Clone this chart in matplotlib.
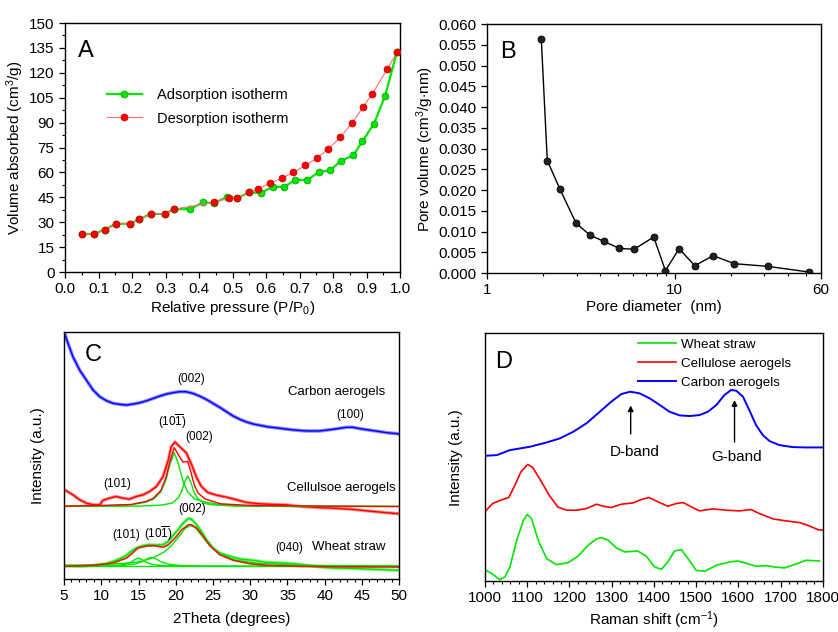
import matplotlib
matplotlib.use('Agg')
import matplotlib.pyplot as plt
from matplotlib.ticker import MultipleLocator, FixedLocator, NullFormatter, LogLocator

plt.rcParams['font.family'] = ['Liberation Sans', 'DejaVu Sans']
plt.rcParams['mathtext.fontset'] = 'custom'
plt.rcParams['mathtext.rm'] = 'Liberation Sans'
plt.rcParams['mathtext.it'] = 'Liberation Sans:italic'
plt.rcParams['mathtext.bf'] = 'Liberation Sans:bold'
plt.rcParams['font.size'] = 10.5
for a in ('xtick', 'ytick'):
    plt.rcParams[a + '.direction'] = 'out'
    plt.rcParams[a + '.major.size'] = 4
    plt.rcParams[a + '.minor.size'] = 2.2
    plt.rcParams[a + '.major.width'] = 0.9
    plt.rcParams[a + '.minor.width'] = 0.8
    plt.rcParams[a + '.labelsize'] = 11
plt.rcParams['axes.linewidth'] = 1.0

# ---------------- Panel A data ----------------
ads_x = [0.05, 0.087, 0.119, 0.151, 0.195, 0.221, 0.256, 0.297, 0.326, 0.373, 0.411, 0.443,
         0.482, 0.513, 0.55, 0.585, 0.619, 0.653, 0.687, 0.723, 0.757, 0.791, 0.823, 0.86,
         0.887, 0.922, 0.955, 0.99]
ads_y = [22.8, 23.0, 25.6, 29.0, 29.2, 31.8, 35.0, 35.0, 37.9, 37.9, 41.9, 41.5,
         44.9, 44.5, 47.9, 47.7, 51.3, 51.3, 55.4, 55.4, 60.2, 61.2, 67.0, 70.3,
         78.7, 89.4, 106.3, 132.3]
des_x = [0.99, 0.962, 0.917, 0.889, 0.857, 0.821, 0.785, 0.753, 0.717, 0.681, 0.646, 0.611,
         0.575, 0.55, 0.513, 0.488, 0.443, 0.326, 0.297, 0.256, 0.221, 0.195, 0.151, 0.119,
         0.087, 0.05]
des_y = [132.3, 122.4, 107.5, 99.3, 90.0, 81.1, 74.1, 68.7, 64.2, 60.0, 56.4, 53.4,
         50.1, 47.9, 44.5, 44.5, 41.9, 37.9, 35.0, 35.0, 31.8, 29.2, 29.0, 25.6,
         23.0, 22.8]

# ---------------- Panel B data ----------------
pore_d = [1.948, 2.097, 2.449, 2.98, 3.525, 4.184, 5.07, 6.07, 7.73, 8.92, 10.55, 12.79,
          16.0, 20.8, 31.2, 51.8]
pore_v = [0.05646, 0.0271, 0.0202, 0.01206, 0.00917, 0.00764, 0.00595, 0.00571, 0.00869,
          0.00056, 0.00587, 0.00177, 0.00418, 0.00225, 0.00161, 0.00024]

# ---------------- Panel C data (arbitrary intensity units) ----------------
carb_x = [5.09, 5.54, 6.2, 7.1, 8.0, 8.9, 9.8, 10.7, 11.6, 12.5, 13.4, 14.3, 15.2, 16.1, 17.0,
          17.85, 18.75, 19.6, 20.5, 21.4, 22.3, 23.2, 24.1, 25.0, 25.9, 26.8, 27.7, 28.6,
          29.5, 30.4, 32.2, 34.0, 35.8, 37.6, 39.3, 41.1, 42.9, 43.8, 44.7, 46.5, 48.3, 50.0]
carb_y = [738, 708, 668, 628, 598, 568, 548, 536, 528, 525, 523, 526, 530, 536, 543,
          550, 556, 560, 563, 563, 558, 550, 540, 528, 516, 503, 490, 480,
          472, 466, 458, 453, 448, 445, 445, 450, 456, 456, 452, 446, 440, 436]

cell_x = [5.09, 6.2, 7.1, 8.0, 8.9, 9.8, 10.2, 11.1, 12.0, 12.9, 13.8, 14.7, 15.6, 16.5, 17.4,
          18.3, 19.0, 19.4, 19.9, 20.2, 20.8, 21.4, 22.1, 22.8, 23.45, 24.3, 25.5, 26.8,
          28.2, 29.5, 31.3, 33.1, 34.9, 36.7, 38.9, 41.1, 43.4, 45.6, 47.9, 50.0]
cell_y = [268, 253, 238, 228, 223, 223, 236, 243, 248, 243, 240, 248, 253, 263, 278,
          308, 358, 398, 412, 405, 392, 380, 345, 305, 278, 260, 252, 246,
          238, 230, 226, 224, 223, 218, 215, 213, 210, 205, 200, 196]
cell_fit_x = [5, 10, 14, 16, 17, 18, 18.7, 19.2, 19.8, 20.4, 21, 21.6, 22, 22.5, 23, 24, 26,
              30, 40, 50]
cell_fit_y = [219, 221, 224, 233, 243, 266, 306, 352, 395, 371, 351, 354, 324, 282, 258,
              240, 226, 221, 219, 218]
cell_p1_x = [5, 10, 14, 16, 17, 18, 18.7, 19.2, 19.8, 20.4, 21, 21.6, 22.5, 24, 26, 30, 40, 50]
cell_p1_y = [219, 220, 223, 231, 240, 262, 299, 343, 380, 343, 292, 262, 241, 231, 223,
             220, 219, 218]
cell_p2_x = [5, 15, 18, 19.5, 20.3, 20.8, 21.2, 21.6, 22.0, 22.4, 22.9, 23.7, 25, 28, 35, 50]
cell_p2_y = [218, 219, 222, 228, 243, 264, 292, 310, 292, 264, 243, 228, 223, 219, 218, 218]

wheat_x = [5.09, 7.1, 8.9, 10.7, 12.0, 13.2, 14.0, 14.7, 15.6, 16.5, 17.4, 18.3, 19.0, 19.6,
           20.3, 21.0, 21.7, 22.1, 22.8, 23.45, 24.1, 25.0, 25.9, 27.3, 28.6, 30.4, 32.2,
           34.4, 35.8, 37.6, 39.3, 41.1, 43.4, 45.6, 47.9, 50.0]
wheat_y = [40, 38, 41, 46, 56, 68, 83, 93, 100, 103, 102, 103, 113, 130,
           148, 168, 182, 180, 163, 143, 118, 93, 78, 68, 60, 56, 50,
           48, 46, 41, 36, 33, 32, 30, 28, 26]
wheat_fit_x = [5, 8.9, 11.6, 13.4, 14.3, 14.9, 16.1, 17.2, 18.3, 19.0, 19.9, 20.8, 21.7,
               22.1, 22.8, 23.7, 24.6, 25.9, 27.7, 29.9, 32.2, 36.7, 41.1, 50]
wheat_fit_y = [38, 41, 48, 63, 80, 93, 99, 100, 95, 103, 123, 148, 163, 163, 153, 128,
               100, 73, 56, 46, 41, 38, 37, 36]
wheat_p002_x = [5, 10, 13, 15, 17, 18.5, 19.5, 20.5, 21.3, 22, 22.7, 23.5, 24.5, 26, 28, 31,
                35, 40, 50]
wheat_p002_y = [41, 43, 47, 51, 64, 82, 102, 130, 153, 161, 153, 130, 102, 74, 57, 47,
                43, 40.5, 39]
wheat_p101_x = [5, 10, 12, 13, 14, 14.5, 15, 15.5, 16, 17, 18, 20, 25, 35, 50]
wheat_p101_y = [38.2, 39, 40.5, 43, 50.5, 58, 63, 58, 50.5, 43, 40.5, 39, 38.2, 38, 38]
wheat_p10b_x = [5, 10, 13, 14.5, 15.5, 16.2, 16.75, 17.3, 18, 19, 20.5, 23, 28, 35, 50]
wheat_p10b_y = [38.3, 39, 40.6, 44.8, 52, 61, 65, 61, 52, 44.8, 40.6, 39, 38.3, 38, 38]
wheat_base_x = [5, 50]
wheat_base_y = [38, 38]

# ---------------- Panel D data ----------------
rc_x = [1000, 1028, 1059, 1106, 1146, 1177, 1209, 1240, 1272, 1299, 1323, 1344, 1366, 1390,
        1414, 1437, 1461, 1485, 1508, 1528, 1548, 1567, 1583, 1595, 1611, 1626, 1642, 1658,
        1674, 1697, 1729, 1760, 1800]
rc_y = [375, 377, 392, 402, 415, 427, 447, 472, 507, 537, 560, 567, 562, 547,
        527, 507, 496, 494, 497, 507, 527, 557, 572, 570, 552, 512, 467, 437,
        419, 407, 401, 400, 400]
rl_x = [1000, 1018, 1037, 1056, 1069, 1085, 1101, 1113, 1129, 1152, 1172, 1193, 1217, 1240,
        1264, 1280, 1299, 1323, 1351, 1370, 1388, 1410, 1433, 1453, 1469, 1489, 1508, 1540,
        1571, 1603, 1630, 1650, 1682, 1713, 1745, 1768, 1788, 1800]
rl_y = [208, 232, 242, 250, 282, 327, 349, 340, 307, 257, 222, 212, 212, 217,
        230, 224, 220, 230, 234, 244, 250, 237, 224, 232, 235, 222, 210, 216,
        212, 210, 214, 202, 186, 180, 175, 165, 154, 152]
rw_x = [1000, 1016, 1035, 1047, 1059, 1075, 1091, 1100, 1110, 1126, 1146, 1169, 1197, 1221,
        1244, 1264, 1276, 1292, 1311, 1331, 1362, 1382, 1402, 1418, 1433, 1449, 1465, 1481,
        1500, 1520, 1548, 1579, 1599, 1622, 1642, 1666, 1686, 1709, 1733, 1760, 1792]
rw_y = [34, 22, 4, 12, 42, 122, 182, 199, 187, 122, 67, 49, 55, 75,
        107, 126, 130, 122, 99, 87, 90, 74, 42, 35, 57, 90, 94, 67,
        32, 29, 47, 57, 60, 52, 44, 46, 42, 39, 49, 62, 60]

GREEN = '#00e600'
RED = '#ff0000'
BLUE = '#0000ff'
LAB = 11

fig = plt.figure(figsize=(8.38, 6.32), dpi=100)

# ================= A =================
axA = fig.add_axes([0.0776, 0.5696, 0.400, 0.394])
axA.plot(ads_x, ads_y, '-o', color=GREEN, lw=1.6, ms=5, mfc=GREEN, mec='#00a000', mew=0.5,
         label='Adsorption isotherm', zorder=3)
axA.plot(des_x, des_y, '-o', color='#ff7070', lw=0.8, ms=5, mfc=RED, mec='#c00000', mew=0.5,
         label='Desorption isotherm', zorder=4)
axA.set_xlim(0, 1.0)
axA.set_ylim(0, 150)
axA.xaxis.set_major_locator(MultipleLocator(0.1))
axA.xaxis.set_minor_locator(MultipleLocator(0.05))
axA.yaxis.set_major_locator(MultipleLocator(15))
axA.yaxis.set_minor_locator(MultipleLocator(7.5))
axA.xaxis.set_major_formatter(matplotlib.ticker.FormatStrFormatter('%.1f'))
axA.set_xlabel('Relative pressure (P/P$_0$)', fontsize=LAB, labelpad=2)
axA.set_ylabel('Volume absorbed (cm$^3$/g)', fontsize=LAB, labelpad=2)
axA.text(0.04, 0.93, 'A', transform=axA.transAxes, fontsize=17, va='top', ha='left')
axA.legend(loc='upper left', bbox_to_anchor=(0.125, 0.737), frameon=False, fontsize=10.5,
           handlelength=2.4, handletextpad=1.0, labelspacing=0.62, borderpad=0,
           borderaxespad=0)

# ================= B =================
axB = fig.add_axes([0.581, 0.568, 0.3986, 0.394])
axB.plot(pore_d, pore_v, '-o', color='black', lw=1.0, ms=5, mfc='#222222', mec='black',
         mew=0.6)
axB.set_xscale('log')
axB.set_xlim(1, 60)
axB.set_ylim(0, 0.060)
axB.xaxis.set_major_locator(FixedLocator([1, 10, 60]))
axB.xaxis.set_major_formatter(matplotlib.ticker.FixedFormatter(['1', '10', '60']))
axB.xaxis.set_minor_locator(LogLocator(base=10, subs=range(2, 10), numticks=20))
axB.xaxis.set_minor_formatter(NullFormatter())
axB.yaxis.set_major_locator(MultipleLocator(0.005))
axB.yaxis.set_major_formatter(matplotlib.ticker.FormatStrFormatter('%.3f'))
axB.set_xlabel('Pore diameter  (nm)', fontsize=LAB, labelpad=2)
axB.set_ylabel('Pore volume (cm$^3$/g$\\cdot$nm)', fontsize=LAB, labelpad=2)
axB.text(0.04, 0.93, 'B', transform=axB.transAxes, fontsize=17, va='top', ha='left')

# ================= C =================
axC = fig.add_axes([0.0764, 0.0839, 0.400, 0.391])
axC.plot(carb_x, carb_y, color=BLUE, lw=2.6, alpha=0.45)
axC.plot(carb_x, carb_y, color=BLUE, lw=1.0)
axC.plot(cell_x, cell_y, color=RED, lw=2.4, alpha=0.45)
axC.plot(cell_x, cell_y, color=RED, lw=1.0)
axC.plot(cell_p1_x, cell_p1_y, color=GREEN, lw=1.0)
axC.plot(cell_p2_x, cell_p2_y, color=GREEN, lw=1.0)
axC.plot(cell_fit_x, cell_fit_y, color=RED, lw=1.0)
axC.plot(wheat_x, wheat_y, color=GREEN, lw=2.4, alpha=0.45)
axC.plot(wheat_x, wheat_y, color=GREEN, lw=1.0)
axC.plot(wheat_base_x, wheat_base_y, color=GREEN, lw=1.0)
axC.plot(wheat_p002_x, wheat_p002_y, color=GREEN, lw=1.0)
axC.plot(wheat_p101_x, wheat_p101_y, color=GREEN, lw=1.0)
axC.plot(wheat_p10b_x, wheat_p10b_y, color=GREEN, lw=1.0)
axC.plot(wheat_fit_x, wheat_fit_y, color='#dd2200', lw=1.2)
axC.set_xlim(5, 50)
axC.set_ylim(0, 743)
axC.set_yticks([])
axC.xaxis.set_major_locator(MultipleLocator(5))
axC.xaxis.set_minor_locator(MultipleLocator(1))
axC.set_xlabel('2Theta (degrees)', fontsize=LAB, labelpad=6)
axC.set_ylabel('Intensity (a.u.)', fontsize=LAB, labelpad=14)
axC.text(8.9, 673, 'C', fontsize=17, ha='center', va='center')
hkl = 8.5
axC.text(22.0, 600, '(002)', fontsize=hkl, ha='center', va='center')
axC.text(41.6, 563, 'Carbon aerogels', fontsize=9.5, ha='center', va='center')
axC.text(43.4, 493, '(100)', fontsize=hkl, ha='center', va='center')
axC.text(19.6, 473, '(10$\\overline{1}$)', fontsize=hkl, ha='center', va='center')
axC.text(23.1, 428, '(002)', fontsize=hkl, ha='center', va='center')
axC.text(12.1, 286, '(101)', fontsize=hkl, ha='center', va='center')
axC.text(42.3, 275, 'Cellulsoe aerogels', fontsize=9.5, ha='center', va='center')
axC.text(22.2, 211, '(002)', fontsize=hkl, ha='center', va='center')
axC.text(13.3, 133, '(101)', fontsize=hkl, ha='center', va='center')
axC.text(17.6, 136, '(10$\\overline{1}$)', fontsize=hkl, ha='center', va='center')
axC.text(35.2, 93, '(040)', fontsize=hkl, ha='center', va='center')
axC.text(43.2, 95, 'Wheat straw', fontsize=9.5, ha='center', va='center')

# ================= D =================
axD = fig.add_axes([0.5788, 0.0807, 0.403, 0.392])
axD.plot(rw_x, rw_y, color=GREEN, lw=1.2, label='Wheat straw')
axD.plot(rl_x, rl_y, color=RED, lw=1.2, label='Cellulose aerogels')
axD.plot(rc_x, rc_y, color=BLUE, lw=1.4, label='Carbon aerogels')
axD.set_xlim(1000, 1800)
axD.set_ylim(0, 742)
axD.set_yticks([])
axD.xaxis.set_major_locator(MultipleLocator(100))
axD.xaxis.set_minor_locator(MultipleLocator(20))
axD.set_xlabel('Raman shift (cm$^{-1}$)', fontsize=LAB, labelpad=3)
axD.set_ylabel('Intensity (a.u.)', fontsize=LAB, labelpad=16)
axD.text(0.03, 0.93, 'D', transform=axD.transAxes, fontsize=17, va='top', ha='left')
axD.legend(loc='upper left', bbox_to_anchor=(0.452, 0.979), frameon=False, fontsize=9.6,
           handlelength=2.9, handletextpad=0.35, labelspacing=0.49, borderpad=0,
           borderaxespad=0)
axD.annotate('', xy=(1345, 534), xytext=(1345, 432),
             arrowprops=dict(arrowstyle='-|>', color='black', lw=1.0, mutation_scale=8))
axD.annotate('', xy=(1591, 550), xytext=(1591, 408),
             arrowprops=dict(arrowstyle='-|>', color='black', lw=1.0, mutation_scale=8))
axD.text(1355, 387, 'D-band', fontsize=11, ha='center', va='center')
axD.text(1595, 372, 'G-band', fontsize=11, ha='center', va='center')

fig.savefig('out.png', dpi=100)
